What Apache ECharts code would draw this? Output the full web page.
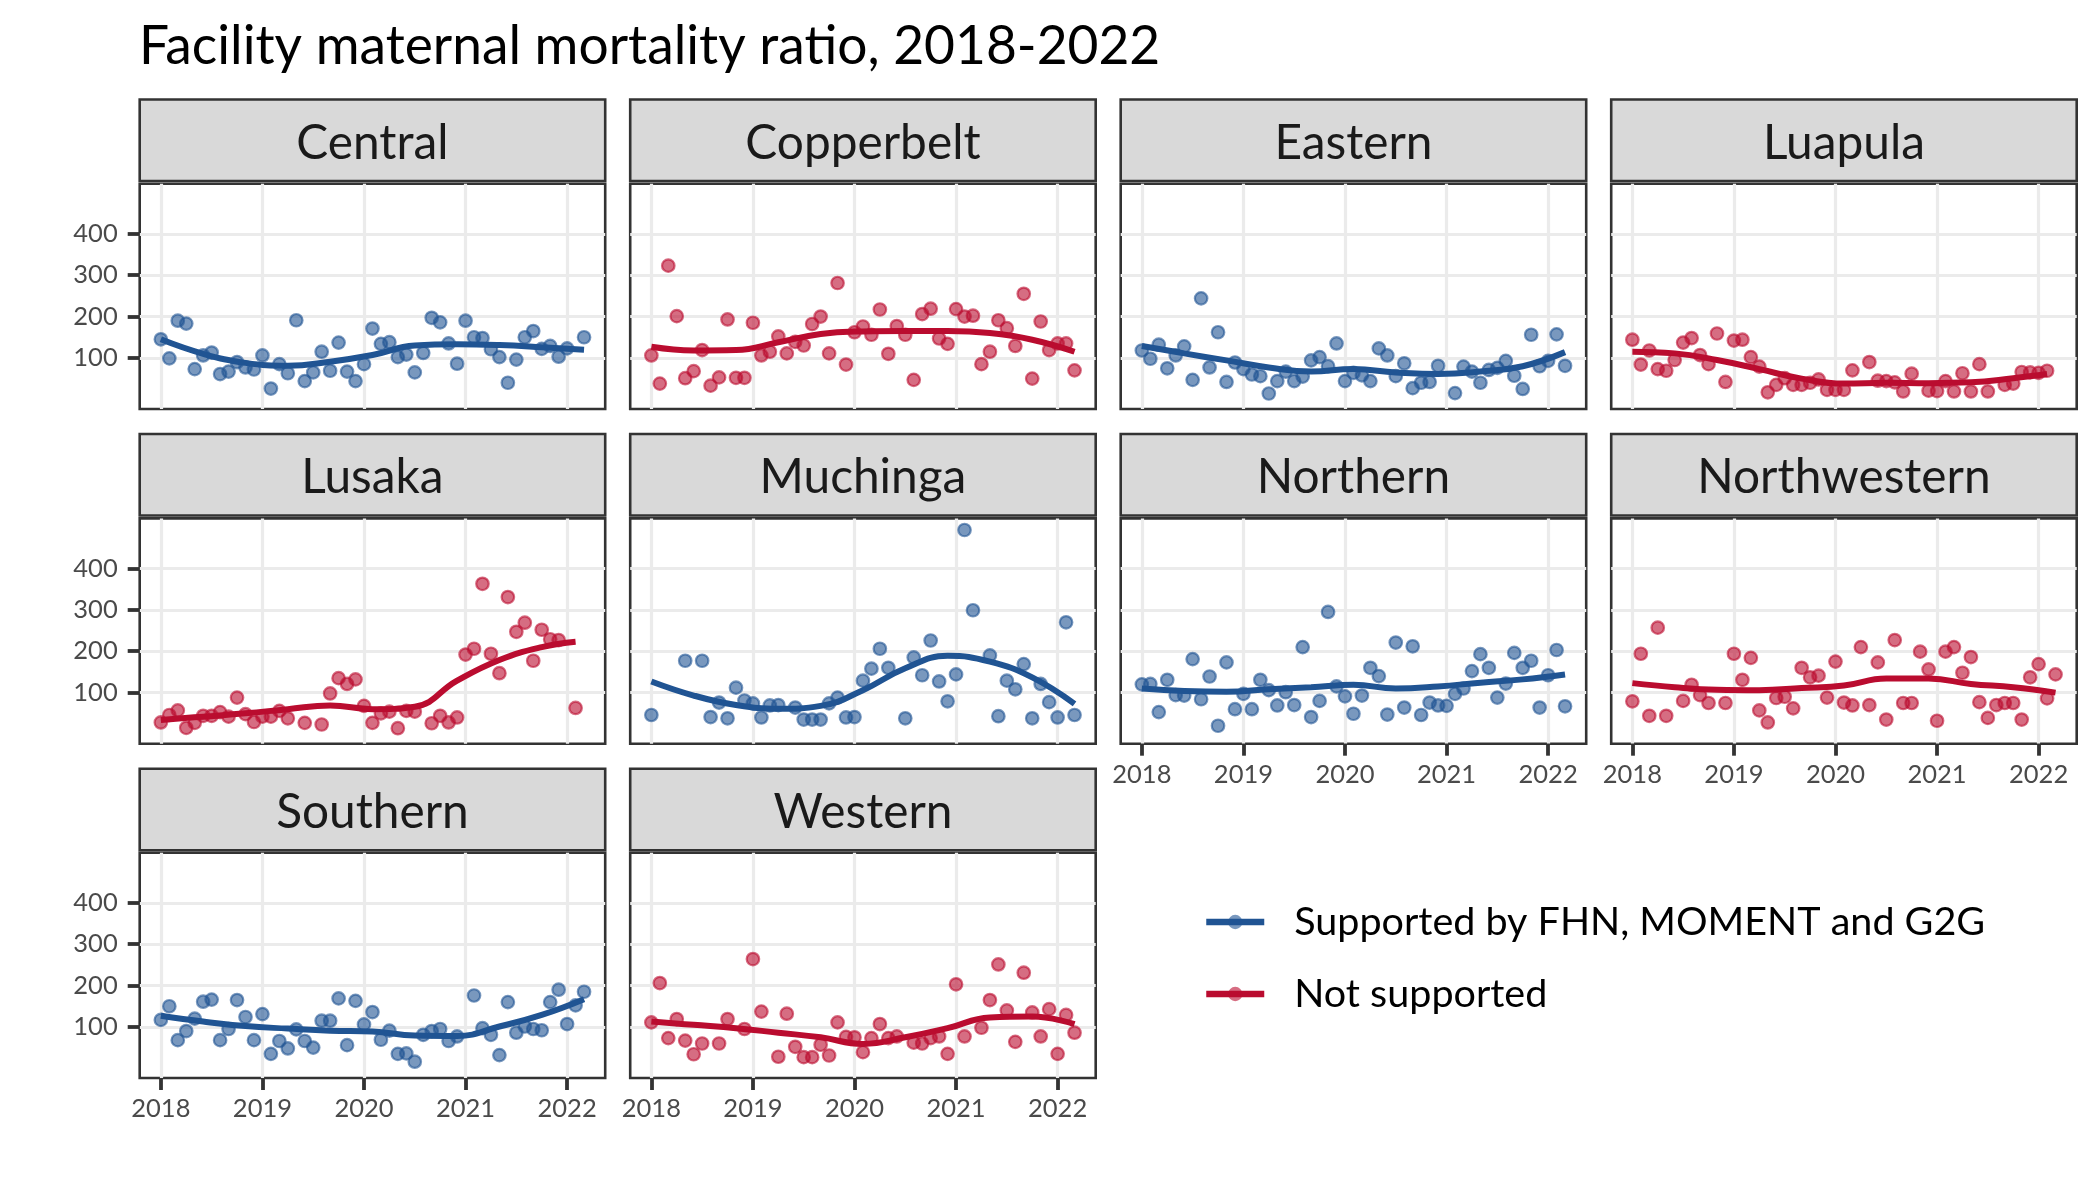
<!DOCTYPE html>
<html><head><meta charset="utf-8"><title>Facility maternal mortality ratio</title>
<script src="https://cdn.jsdelivr.net/npm/echarts@6/dist/echarts.min.js"></script>
<style>html,body{margin:0;padding:0;background:#fff}#c{width:2100px;height:1200px}</style></head>
<body><div id="c"></div>
<script>
const titleText = 'Facility maternal mortality ratio, 2018-2022';
const legendSupported = 'Supported by FHN, MOMENT and G2G';
const legendNot = 'Not supported';
const yearLabels = ['2018','2019','2020','2021','2022'];
const yearMonths = [0,12,24,36,48];
const yTicks = [100,200,300,400];
const trendMonths = [0,5,10,15,20,25,30,35,40,45,50];
const n = null;

const centralPts = [145,99,190,183,73,106,113,61,67,90,77,72,106,26,85,63,191,44,65,115,69,137,67,44,85,171,134,138,102,108,65,112,197,186,135,86,190,150,148,121,102,40,96,150,165,122,129,103,123,n,150];
const centralTrend = [145,110,88,81,91,107,130,133,131,126,120];
const copperbeltPts = [106,38,323,201,51,68,119,33,53,193,52,52,185,106,115,152,111,139,130,182,200,111,281,84,162,176,156,217,110,177,156,47,206,219,147,134,218,200,202,85,115,191,172,129,255,50,188,119,135,135,70];
const copperbeltTrend = [127,118,119,138,158,164,165,165,160,144,115];
const easternPts = [118,98,132,75,106,128,47,244,77,162,42,89,73,60,56,14,44,67,44,55,94,102,80,135,44,64,58,44,123,106,56,87,27,40,42,81,n,15,79,67,40,71,76,93,57,25,156,80,93,157,81];
const easternTrend = [129,111,94,77,67,73,65,61,67,80,114];
const luapulaPts = [144,84,118,73,69,95,137,148,107,85,159,42,142,144,102,79,17,35,51,35,35,40,48,23,23,23,70,n,90,45,44,41,19,62,n,21,20,44,19,63,19,85,19,n,35,38,66,65,64,69,n];
const luapulaTrend = [115,111,95,73,50,38,40,39,41,51,61];
const lusakaPts = [28,46,57,15,27,44,44,53,42,88,48,29,42,42,56,38,n,27,n,23,98,135,121,132,68,27,50,54,14,56,54,n,26,44,28,40,192,206,363,194,147,331,247,269,177,252,229,227,n,63,n];
const lusakaTrend = [34,42,50,60,69,60,66,129,179,210,223];
const muchingaPts = [46,n,n,n,177,n,177,41,76,38,112,81,74,40,69,70,n,64,35,35,35,74,88,40,41,129,158,206,160,n,38,185,142,226,127,79,144,493,299,n,190,43,129,108,169,38,121,77,40,270,46];
const muchingaTrend = [127,93,70,61,68,106,159,189,175,137,73];
const northernPts = [120,121,53,131,94,93,181,84,139,20,173,60,97,60,131,106,69,101,70,210,41,80,295,115,91,49,93,160,140,47,221,64,212,46,76,69,68,97,110,152,193,160,88,122,196,160,177,64,142,203,67];
const northernTrend = [110,104,102,108,113,119,110,115,124,132,144];
const northwesternPts = [79,194,44,257,44,n,80,119,94,75,n,75,194,131,184,57,28,87,90,62,160,137,141,88,175,76,69,210,70,173,35,227,75,75,199,156,32,199,210,148,186,77,39,70,75,75,35,137,169,86,144];
const northwesternTrend = [123,113,107,106,111,117,134,134,121,113,100];
const southernPts = [117,150,68,90,120,161,166,68,95,165,124,68,131,35,66,48,94,66,50,115,115,169,56,163,106,136,69,91,35,36,16,81,90,95,66,77,n,176,97,81,32,160,86,101,95,92,160,190,107,152,185];
const southernTrend = [127,113,102,96,91,89,79,78,101,129,167];
const westernPts = [111,206,73,119,67,34,60,n,60,119,n,95,264,137,n,28,132,52,27,27,57,31,111,76,75,39,73,107,73,77,n,62,60,73,77,35,203,77,n,98,165,251,140,64,231,135,77,143,35,129,86];
const westernTrend = [113,105,97,86,75,59,75,97,123,125,107];

const BLUE = '#205493', RED = '#BA0C2F';
const BLUE_A = 'rgba(32,84,147,0.6)', RED_A = 'rgba(186,12,47,0.6)';
const FONT = 'Lato';

const panels = [
  {name:'Central',      pts:centralPts,      trend:centralTrend,      sup:true,  c:0,r:0,yl:true, xl:false},
  {name:'Copperbelt',   pts:copperbeltPts,   trend:copperbeltTrend,   sup:false, c:1,r:0,yl:false,xl:false},
  {name:'Eastern',      pts:easternPts,      trend:easternTrend,      sup:true,  c:2,r:0,yl:false,xl:false},
  {name:'Luapula',      pts:luapulaPts,      trend:luapulaTrend,      sup:false, c:3,r:0,yl:false,xl:false},
  {name:'Lusaka',       pts:lusakaPts,       trend:lusakaTrend,       sup:false, c:0,r:1,yl:true, xl:false},
  {name:'Muchinga',     pts:muchingaPts,     trend:muchingaTrend,     sup:true,  c:1,r:1,yl:false,xl:false},
  {name:'Northern',     pts:northernPts,     trend:northernTrend,     sup:true,  c:2,r:1,yl:false,xl:true},
  {name:'Northwestern', pts:northwesternPts, trend:northwesternTrend, sup:false, c:3,r:1,yl:false,xl:true},
  {name:'Southern',     pts:southernPts,     trend:southernTrend,     sup:true,  c:0,r:2,yl:true, xl:true},
  {name:'Western',      pts:westernPts,      trend:westernTrend,      sup:false, c:1,r:2,yl:false,xl:true}
];

const colLeft = [139.7,630.2,1120.7,1611.2];
const panelTop = [183.7,518.4,852.7];
const stripTop = [99.5,434,768.7];
const PW = 465.5, PH = 225.3, SH = 81.5;

const grids=[],xAxes=[],yAxes=[],series=[],graphics=[];
panels.forEach((p,i)=>{
  const L=colLeft[p.c], T=panelTop[p.r];
  grids.push({left:L,top:T,width:PW,height:PH,show:true,backgroundColor:'#fff',borderColor:'#333',borderWidth:2.6,containLabel:false});
  xAxes.push({type:'value',gridIndex:i,min:-2.5,max:52.5,
    axisLine:{show:false,onZero:false},
    axisTick:{show:p.xl,length:12,lineStyle:{color:'#333',width:3.8},customValues:yearMonths},
    axisLabel:{show:p.xl,customValues:yearMonths,margin:18,color:'#4a4a4a',fontFamily:FONT,fontSize:25.5,
      formatter:v=>yearLabels[yearMonths.indexOf(v)]},
    splitLine:{show:true,lineStyle:{color:'#ebebeb',width:3.2}}});
  yAxes.push({type:'value',gridIndex:i,min:-23.4,max:521,
    axisLine:{show:false,onZero:false},
    axisTick:{show:p.yl,length:12,lineStyle:{color:'#333',width:3.8},customValues:yTicks},
    axisLabel:{show:p.yl,customValues:yTicks,margin:22,color:'#4a4a4a',fontFamily:FONT,fontSize:25.5},
    splitLine:{show:true,lineStyle:{color:'#ebebeb',width:3.2}}});
  const nm = p.sup?legendSupported:legendNot, col=p.sup?BLUE:RED, colA=p.sup?BLUE_A:RED_A;
  const data = p.pts.map((v,m)=>[m,v]).filter(d=>d[1]!==null);
  const last = data[data.length-1][0];
  const months = trendMonths.map(m=>Math.min(m,last));
  series.push({type:'line',name:nm,xAxisIndex:i,yAxisIndex:i,smooth:0.45,symbol:'none',z:4,
    data:p.trend.map((v,k)=>[months[k],v]),
    lineStyle:{color:col,width:6},itemStyle:{color:colA},animation:false,silent:true});
  series.push({type:'scatter',name:nm,xAxisIndex:i,yAxisIndex:i,symbolSize:12.5,z:3,data,
    itemStyle:{color:colA,borderColor:colA,borderWidth:2.2,opacity:1},animation:false,silent:true});
  graphics.push({type:'rect',silent:true,z:5,shape:{x:L,y:stripTop[p.r],width:PW,height:SH},
    style:{fill:'#d9d9d9',stroke:'#333',lineWidth:2.6}});
  graphics.push({type:'text',silent:true,z:6,style:{text:p.name,x:L+PW/2,y:stripTop[p.r]+SH/2+3,
    textAlign:'center',textVerticalAlign:'middle',font:'47.8px '+FONT,fill:'#1a1a1a'}});
});

const chart = echarts.init(document.getElementById('c'),null,{renderer:'canvas'});
chart.setOption({
  backgroundColor:'#fff',animation:false,
  title:{text:titleText,left:134,top:15,textStyle:{fontFamily:FONT,fontWeight:'normal',fontSize:53.3,color:'#000'}},
  legend:{orient:'vertical',left:1198,top:897,selectedMode:false,itemWidth:58,itemHeight:18,itemGap:32,
    data:[{name:legendSupported},{name:legendNot}],
    lineStyle:{width:6.5},
    textStyle:{fontFamily:FONT,fontSize:39.5,color:'#000',padding:[0,0,0,25]}},
  grid:grids,xAxis:xAxes,yAxis:yAxes,series,graphic:graphics
});
</script></body></html>
